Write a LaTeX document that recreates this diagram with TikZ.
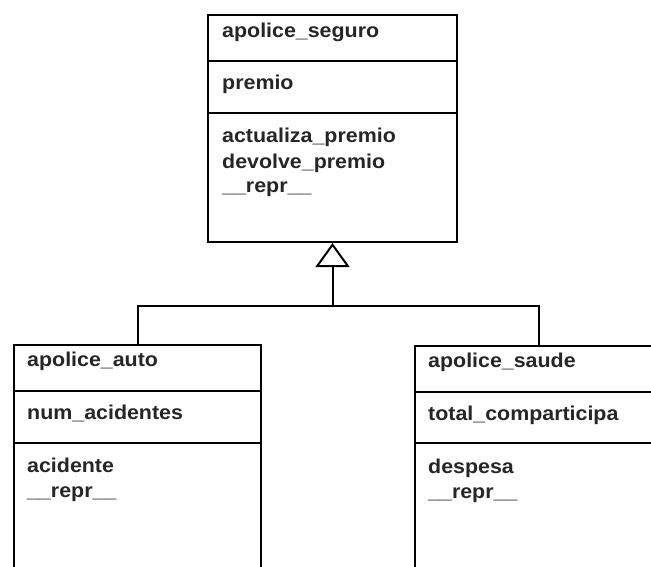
\documentclass[tikz,border=0pt]{standalone}
\usepackage{fontspec}
\setmainfont[FakeStretch=1.07]{Liberation Sans}
\usetikzlibrary{arrows.meta}
\begin{document}
\begin{tikzpicture}[x=1pt,y=-1pt,
  classbox/.style={draw=black,line width=2pt,rectangle,inner sep=0pt,anchor=north west},
  divider/.style={draw=black,line width=2pt},
  lbl/.style={anchor=base west,inner sep=0pt,font=\fontsize{20}{24}\selectfont\bfseries,text=black!85},
  conn/.style={draw=black,line width=2pt},
  inherit/.style={conn,-{Triangle[open,length=24pt,width=34pt,line width=2pt]}}]
\clip (0,0) rectangle (651,567);
\fill[white] (0,0) rectangle (651,567);
% parent class
\node[classbox,minimum width=249pt,minimum height=227pt] (top) at (207,14) {};
\draw[divider] (207,61) -- (456,61);
\draw[divider] (207,113) -- (456,113);
\node[lbl] (tname) at (222,38) {apolice\_seguro};
\node[lbl] (tattr) at (222,90) {premio};
\node[lbl] (tm1) at (222,143) {actualiza\_premio};
\node[lbl] (tm2) at (222,168) {devolve\_premio};
\node[lbl] (tm3) at (222,193) {\_\_repr\_\_};
% left child
\node[classbox,minimum width=247pt,minimum height=250pt] (auto) at (13,344) {};
\draw[divider] (13,391) -- (260,391);
\draw[divider] (13,443) -- (260,443);
\node[lbl] (aname) at (27,366) {apolice\_auto};
\node[lbl] (aattr) at (27,419) {num\_acidentes};
\node[lbl] (am1) at (27,472) {acidente};
\node[lbl] (am2) at (27,497) {\_\_repr\_\_};
% right child
\node[classbox,minimum width=248pt,minimum height=250pt] (saude) at (414,345) {};
\draw[divider] (414,392) -- (662,392);
\draw[divider] (414,443) -- (662,443);
\node[lbl] (sname) at (428,367) {apolice\_saude};
\node[lbl] (sattr) at (428,420) {total\_comparticipa};
\node[lbl] (sm1) at (428,473) {despesa};
\node[lbl] (sm2) at (428,498) {\_\_repr\_\_};
% inheritance connectors
\coordinate (junction) at (top.south |- 0,306);
\draw[conn] (auto.north) |- (junction) -| (saude.north);
\draw[inherit] (junction) -- (top.south);
\end{tikzpicture}
\end{document}
